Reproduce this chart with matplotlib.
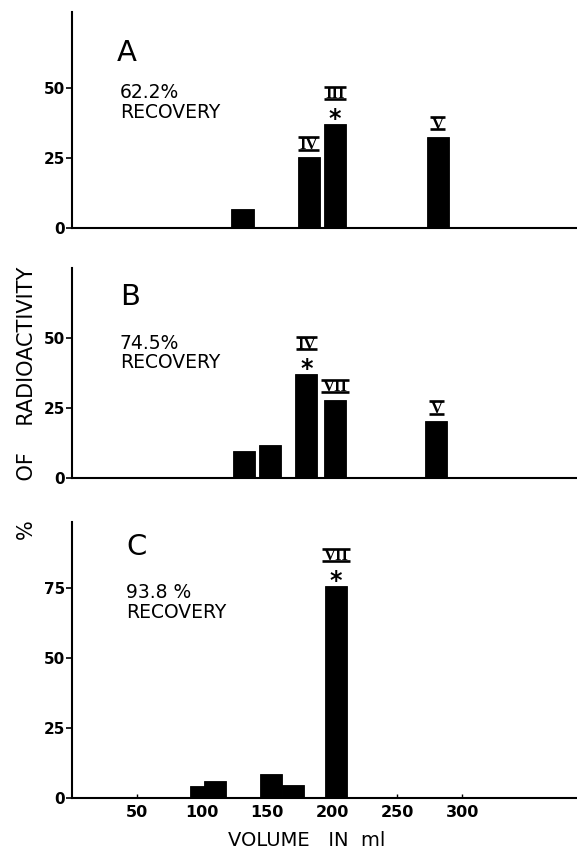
import matplotlib
matplotlib.use("Agg")
import matplotlib.pyplot as plt
from matplotlib.path import Path

# fraction volumes (ml) and % of radioactivity
volA = [131, 182, 202, 281]
pctA = [6.9, 25.2, 37.0, 32.4]
volB = [132, 152, 180, 202, 280]
pctB = [9.5, 11.9, 37.0, 28.0, 20.2]
volC = [99, 110, 153, 170, 203]
pctC = [4.3, 6.0, 8.6, 4.5, 75.6]

# (bar index, peak numeral, marked with *)
peaksA = [(1, "IV", False), (2, "III", True), (3, "V", False)]
peaksB = [(2, "IV", True), (3, "VII", False), (4, "V", False)]
peaksC = [(4, "VII", True)]

recoveryA = "62.2%"
recoveryB = "74.5%"
recoveryC = "93.8 %"

yticksA = [0, 25, 50]
yticksB = [0, 25, 50]
yticksC = [0, 25, 50, 75]
xticksC = [50, 100, 150, 200, 250, 300]

barWidth = 17


def barred(x0, y0, width, height, mutation_size):
    # bar above and below the numeral, like the typed roman numerals
    ext = 0.08 * mutation_size
    top = y0 + height - 0.03 * mutation_size
    bot = y0 + 0.2 * mutation_size
    verts = [(x0 - ext, top), (x0 + width + ext, top),
             (x0 - ext, bot), (x0 + width + ext, bot)]
    codes = [Path.MOVETO, Path.LINETO, Path.MOVETO, Path.LINETO]
    return Path(verts, codes)


def panel(rect, vols, pcts, peaks, ylim, yticks, letter, letterPos, recovery, recPos, xticks=None):
    ax = fig.add_axes(rect)
    ax.bar(vols, pcts, width=barWidth, color="black", edgecolor="black",
           linewidth=0.6, align="center")
    ax.set_xlim(0, 388)
    ax.set_ylim(0, ylim)
    ax.spines["top"].set_visible(False)
    ax.spines["right"].set_visible(False)
    ax.spines["left"].set_linewidth(1.5)
    ax.spines["bottom"].set_linewidth(1.5)
    ax.set_yticks(yticks)
    ax.tick_params(axis="y", length=4, width=1.2, pad=1, labelsize=11)
    for lab in ax.get_yticklabels():
        lab.set_fontweight("bold")
    if xticks:
        ax.set_xticks(xticks)
        ax.tick_params(axis="x", direction="in", length=3, width=1, pad=5, labelsize=11.5)
        for lab in ax.get_xticklabels():
            lab.set_fontweight("bold")
    else:
        ax.set_xticks([])

    ax.text(letterPos[0], letterPos[1], letter, transform=ax.transAxes,
            fontsize=21, ha="left", va="center")
    ax.text(recPos[0], recPos[1], recovery + "\nRECOVERY", transform=ax.transAxes,
            fontsize=13.5, ha="left", va="center", linespacing=1.05)

    for idx, numeral, star in peaks:
        x = vols[idx]
        h = pcts[idx]
        if star:
            ax.annotate("*", (x, h), xytext=(0, 4), textcoords="offset points",
                        ha="center", va="center", fontsize=17, fontweight="bold")
            dy = 21.5
        else:
            dy = 9
        ax.annotate(numeral, (x, h), xytext=(0, dy), textcoords="offset points",
                    ha="center", va="center", fontsize=12, fontweight="bold",
                    family="Liberation Serif",
                    bbox=dict(boxstyle=barred, fc="none", ec="black", lw=1.9))
    return ax


fig = plt.figure(figsize=(5.77, 8.49), dpi=100)

panel([0.1248, 0.7314, 0.8752, 0.2544], volA, pctA, peaksA, 77, yticksA,
      "A", (0.089, 0.81), recoveryA, (0.095, 0.581))
panel([0.1248, 0.4370, 0.8752, 0.2473], volB, pctB, peaksB, 75, yticksB,
      "B", (0.095, 0.862), recoveryB, (0.095, 0.595))
panel([0.1248, 0.0601, 0.8752, 0.3251], volC, pctC, peaksC, 98.5, yticksC,
      "C", (0.107, 0.909), recoveryC, (0.107, 0.707), xticks=xticksC)

fig.text(0.047, 0.525, "%      OF    RADIOACTIVITY", rotation=90,
         ha="center", va="center", fontsize=15)
fig.text(0.532, 0.0106, "VOLUME   IN  ml", ha="center", va="center", fontsize=14)

fig.savefig("out.png", dpi=100)
